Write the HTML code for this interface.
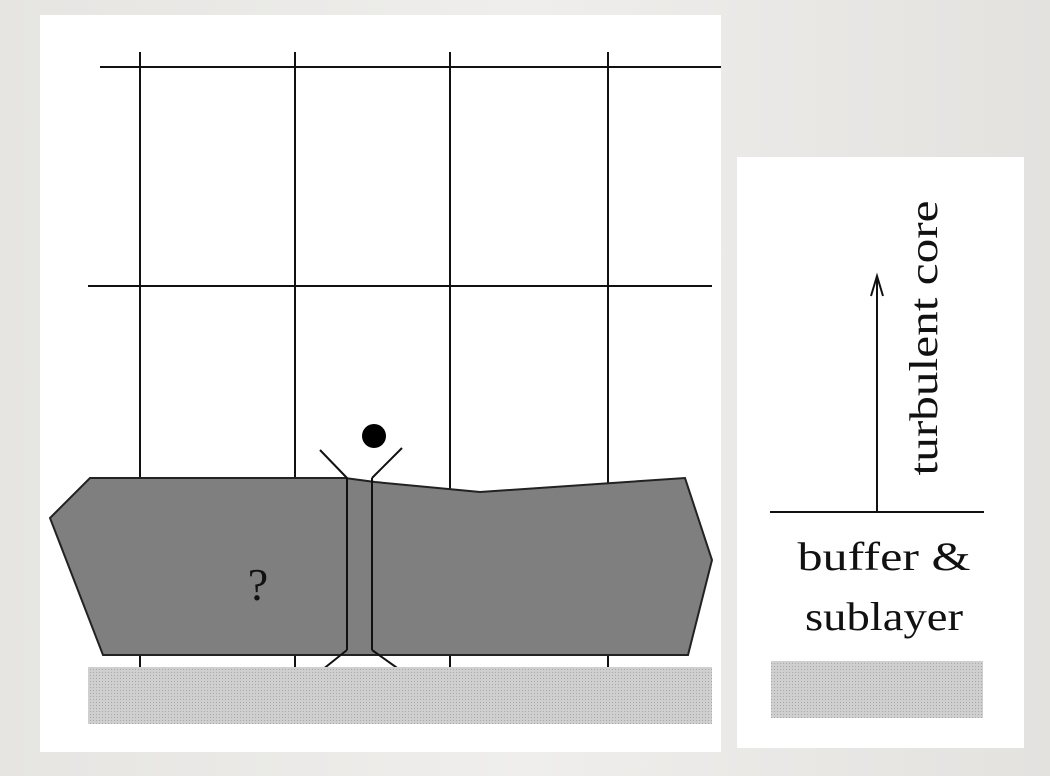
<!DOCTYPE html>
<html><head><meta charset="utf-8"><style>
html,body{margin:0;padding:0;width:1050px;height:776px;overflow:hidden;background:linear-gradient(90deg,#e6e5e2,#efeeec 50%,#e4e2df);}
svg{display:block}
text{font-family:"Liberation Serif",serif;fill:#111}
</style></head><body>
<svg width="1050" height="776" viewBox="0 0 1050 776">
<defs>
<pattern id="dots" width="3" height="3" patternUnits="userSpaceOnUse">
<rect width="3" height="3" fill="#cfcfcf"/><rect width="1" height="1" fill="#a8a8a8"/>
</pattern>
</defs>
<rect x="40" y="15" width="681" height="737" fill="#fff"/>
<rect x="737" y="157" width="287" height="591" fill="#fff"/>
<g stroke="#111" stroke-width="2">
<line x1="100" y1="67" x2="721" y2="67"/>
<line x1="88" y1="286" x2="712" y2="286"/>
<line x1="140" y1="52" x2="140" y2="667"/>
<line x1="295" y1="52" x2="295" y2="667"/>
<line x1="450" y1="52" x2="450" y2="667"/>
<line x1="608" y1="52" x2="608" y2="667"/>
</g>
<polygon points="90,478 345,478 375,482 480,492 685,478 712,560 688,655 103,655 50,518" fill="#7f7f7f" stroke="#222" stroke-width="2"/>
<g stroke="#111" stroke-width="2" fill="none">
<line x1="347" y1="478" x2="347" y2="650"/>
<line x1="372" y1="478" x2="372" y2="650"/>
<line x1="320" y1="450" x2="347" y2="478"/>
<line x1="402" y1="448" x2="372" y2="478"/>
<line x1="322" y1="670" x2="347" y2="650"/>
<line x1="400" y1="670" x2="372" y2="650"/>
</g>
<circle cx="374" cy="436" r="12" fill="#000"/>
<text x="258" y="600" font-size="46" text-anchor="middle">?</text>
<rect x="88" y="667" width="624" height="57" fill="url(#dots)"/>
<line x1="770" y1="512" x2="984" y2="512" stroke="#111" stroke-width="2"/>
<line x1="877" y1="512" x2="877" y2="280" stroke="#111" stroke-width="2"/>
<path d="M871,296 L877,276 L883,296" fill="none" stroke="#111" stroke-width="2"/>
<text transform="translate(937,338) rotate(-90)" font-size="40" text-anchor="middle" textLength="275" lengthAdjust="spacingAndGlyphs">turbulent core</text>
<text x="884" y="570" font-size="40" text-anchor="middle" textLength="173" lengthAdjust="spacingAndGlyphs">buffer &amp;</text>
<text x="884" y="630" font-size="40" text-anchor="middle" textLength="158" lengthAdjust="spacingAndGlyphs">sublayer</text>
<rect x="771" y="661" width="212" height="57" fill="url(#dots)"/>
</svg>
</body></html>
